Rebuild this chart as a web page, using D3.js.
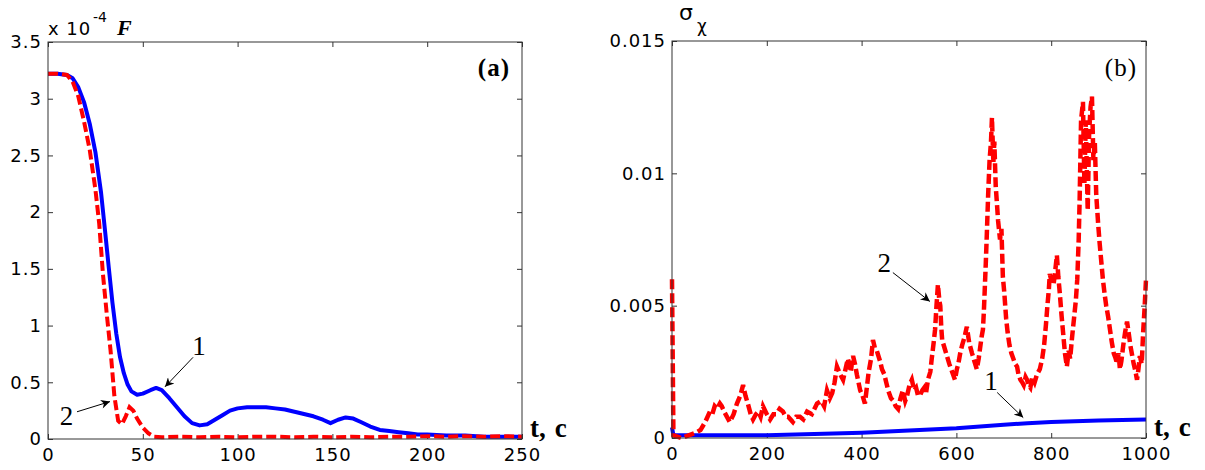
<!DOCTYPE html>
<html>
<head>
<meta charset="utf-8">
<script src="https://cdn.jsdelivr.net/npm/d3@7"></script>
<style>
  body { margin: 0; background: #fff; }
  svg { display: block; }
</style>
</head>
<body>
<div id="chart"></div>
<script>
// ---- panel (a): F(t), units of 1e-4 ----
const tBlueA = [0, 5, 10, 13, 16, 19, 22, 25, 28, 30, 32, 34, 36, 38, 40, 42, 44, 47, 50, 54, 57, 60, 64, 68, 72, 76, 80, 84, 88, 92, 96, 100, 105, 110, 115, 120, 125, 130, 135, 140, 145, 149, 153, 157, 161, 165, 170, 175, 180, 185, 190, 195, 200, 210, 220, 230, 240, 250];
const blueA = [3.22, 3.22, 3.21, 3.18, 3.10, 2.97, 2.78, 2.53, 2.17, 1.85, 1.52, 1.20, 0.93, 0.72, 0.58, 0.48, 0.42, 0.39, 0.40, 0.43, 0.45, 0.43, 0.36, 0.28, 0.20, 0.14, 0.12, 0.13, 0.17, 0.21, 0.25, 0.27, 0.28, 0.28, 0.28, 0.27, 0.26, 0.24, 0.22, 0.20, 0.17, 0.14, 0.17, 0.19, 0.18, 0.15, 0.11, 0.08, 0.07, 0.06, 0.05, 0.04, 0.04, 0.03, 0.03, 0.02, 0.02, 0.02];
const tRedA = [0, 5, 10, 13, 16, 19, 22, 25, 27, 29, 31, 33, 35, 37, 39, 41, 43, 45, 47, 50, 53, 56, 60, 70, 80, 90, 100, 110, 120, 130, 140, 150, 160, 170, 180, 190, 200, 210, 220, 230, 240, 250];
const redA = [3.22, 3.22, 3.21, 3.15, 3.02, 2.80, 2.55, 2.20, 1.90, 1.45, 1.10, 0.78, 0.38, 0.16, 0.13, 0.20, 0.28, 0.25, 0.18, 0.10, 0.05, 0.02, 0.015, 0.02, 0.015, 0.02, 0.015, 0.02, 0.02, 0.015, 0.02, 0.015, 0.02, 0.015, 0.02, 0.02, 0.025, 0.02, 0.025, 0.02, 0.025, 0.02];
const xTicksA = [0, 50, 100, 150, 200, 250];
const yTicksA = [0, 0.5, 1, 1.5, 2, 2.5, 3, 3.5];

// ---- panel (b): sigma_chi(t) ----
const tBlueB = [0, 3, 100, 200, 300, 400, 500, 600, 700, 750, 800, 900, 1000];
const blueB = [0.0004, 0.0001, 0.0001, 0.0001, 0.00015, 0.0002, 0.00028, 0.00037, 0.0005, 0.00056, 0.0006, 0.00066, 0.0007];
const tRedB = [0, 3, 20, 35, 50, 60, 70, 80, 85, 90, 95, 101, 105, 110, 116, 122, 130, 137, 144, 150, 155, 160, 166, 171, 177, 182, 187, 192, 200, 207, 214, 220, 227, 234, 240, 245, 255, 262, 270, 277, 285, 295, 306, 315, 321, 327, 333, 338, 343, 348, 355, 361, 366, 371, 377, 382, 386, 390, 397, 402, 407, 415, 420, 424, 428, 432, 439, 443, 448, 452, 456, 462, 467, 472, 477, 482, 487, 492, 496, 501, 506, 511, 515, 519, 523, 528, 532, 536, 540, 545, 548, 552, 555, 558, 561, 564, 566, 568, 570, 575, 580, 585, 589, 593, 597, 601, 604, 608, 612, 617, 622, 627, 633, 638, 643, 647, 650, 653, 656, 658, 660, 662, 664, 667, 670, 673, 675, 678, 680, 683, 685, 688, 692, 695, 698, 701, 705, 708, 712, 716, 720, 724, 728, 731, 735, 739, 742, 746, 749, 752, 756, 760, 765, 770, 776, 781, 785, 789, 792, 795, 797, 801, 805, 809, 812, 815, 818, 822, 825, 829, 833, 837, 840, 844, 848, 852, 855, 858, 860, 863, 867, 870, 873, 877, 880, 883, 886, 889, 892, 895, 899, 902, 904, 907, 909, 913, 916, 920, 924, 928, 932, 936, 939, 942, 945, 948, 952, 956, 960, 964, 967, 971, 974, 978, 981, 984, 987, 991, 994, 997, 1000];
const redB = [0.0060, 0.0001, 0.0000, 0.0001, 0.0002, 0.0003, 0.0006, 0.0010, 0.0009, 0.0012, 0.0011, 0.0013, 0.0012, 0.0010, 0.0008, 0.0006, 0.0009, 0.0013, 0.0016, 0.0020, 0.0016, 0.0013, 0.0009, 0.0007, 0.0009, 0.0010, 0.0008, 0.0012, 0.0009, 0.0007, 0.0009, 0.0009, 0.0011, 0.0010, 0.0008, 0.0008, 0.0006, 0.0008, 0.0008, 0.0007, 0.0010, 0.0009, 0.0013, 0.0014, 0.0012, 0.0018, 0.0015, 0.0017, 0.0021, 0.0027, 0.0024, 0.0022, 0.0026, 0.0030, 0.0025, 0.0031, 0.0028, 0.0024, 0.0018, 0.0016, 0.0013, 0.0025, 0.0030, 0.0037, 0.0034, 0.0033, 0.0029, 0.0026, 0.0024, 0.0021, 0.0018, 0.0015, 0.0014, 0.0012, 0.0011, 0.0015, 0.0018, 0.0014, 0.0016, 0.0020, 0.0022, 0.0018, 0.0019, 0.0016, 0.0016, 0.0018, 0.0019, 0.0017, 0.0022, 0.0025, 0.0030, 0.0036, 0.0041, 0.0050, 0.0058, 0.0052, 0.0050, 0.0042, 0.0037, 0.0034, 0.0031, 0.0028, 0.0026, 0.0024, 0.0022, 0.0026, 0.0028, 0.0032, 0.0035, 0.0038, 0.0042, 0.0036, 0.0032, 0.0029, 0.0026, 0.0030, 0.0034, 0.0038, 0.0041, 0.0048, 0.0057, 0.0066, 0.0076, 0.0092, 0.0105, 0.0112, 0.0121, 0.0104, 0.0112, 0.0095, 0.0090, 0.0082, 0.0075, 0.0079, 0.0061, 0.0055, 0.0045, 0.0040, 0.0035, 0.0032, 0.0030, 0.0028, 0.0027, 0.0024, 0.0022, 0.0021, 0.0020, 0.0023, 0.0022, 0.0020, 0.0019, 0.0023, 0.0021, 0.0024, 0.0026, 0.0030, 0.0035, 0.0043, 0.0050, 0.0056, 0.0062, 0.0059, 0.0058, 0.0064, 0.0069, 0.0061, 0.0055, 0.0046, 0.0040, 0.0032, 0.0027, 0.0033, 0.0030, 0.0038, 0.0045, 0.0052, 0.0060, 0.0075, 0.0090, 0.0120, 0.0127, 0.0096, 0.0120, 0.0086, 0.0115, 0.0125, 0.0129, 0.0105, 0.0112, 0.0092, 0.0081, 0.0074, 0.0070, 0.0064, 0.0060, 0.0054, 0.0050, 0.0046, 0.0041, 0.0036, 0.0032, 0.0030, 0.0028, 0.0032, 0.0026, 0.0029, 0.0035, 0.0040, 0.0044, 0.0039, 0.0035, 0.0031, 0.0028, 0.0025, 0.0022, 0.0026, 0.0031, 0.0028, 0.0040, 0.0049, 0.0060];
const xTicksB = [0, 200, 400, 600, 800, 1000];
const yTicksB = [0, 0.005, 0.01, 0.015];

// curve labels with arrows, in data coordinates: [label, textT, textV, fromT, fromV, toT, toV]
const notesA = [
  ["1", 79.6, 0.74, 76.5, 0.72, 61.7, 0.46],
  ["2", 9.8, 0.12, 15.3, 0.24, 32.7, 0.33]
];
const notesB = [
  ["2", 448, 0.00629, 466, 0.00625, 544, 0.00516],
  ["1", 673, 0.00183, 686, 0.00172, 741, 0.00077]
];

const width = 1205, height = 470;
const BLUE = "#0000ff", RED = "#ff0000";
const tickFont = "'DejaVu Sans', sans-serif";
const serif = "'Liberation Serif', 'Times New Roman', serif";

const svg = d3.select("#chart").append("svg")
  .attr("width", width)
  .attr("height", height);

svg.append("defs").append("marker")
  .attr("id", "arrow")
  .attr("viewBox", "0 0 10 10")
  .attr("refX", 10).attr("refY", 5)
  .attr("markerWidth", 12).attr("markerHeight", 9)
  .attr("markerUnits", "userSpaceOnUse")
  .attr("orient", "auto")
  .append("path")
  .attr("d", "M0,0 L10,5 L0,10 L3,5 Z")
  .attr("fill", "#000");

function drawPanel(box, xDomain, yDomain, xTicks, yTicks, blueT, blueV, redT, redV, notes, redWidth) {
  const x = d3.scaleLinear().domain(xDomain).range([box.left, box.right]);
  const y = d3.scaleLinear().domain(yDomain).range([box.bottom, box.top]);
  const g = svg.append("g");
  const fmt = d3.format("~g");

  // axes with inward ticks on all four sides
  const styleAxis = sel => {
    sel.select(".domain").remove();
    sel.selectAll(".tick line").attr("stroke", "#333");
    sel.selectAll(".tick text")
      .attr("font-family", tickFont)
      .attr("font-size", 18)
      .attr("letter-spacing", 1)
      .attr("fill", "#000");
  };
  g.append("g").attr("transform", `translate(0,${box.bottom})`)
    .call(d3.axisBottom(x).tickValues(xTicks).tickSize(-5).tickPadding(9).tickFormat(fmt))
    .call(styleAxis);
  g.append("g").attr("transform", `translate(0,${box.top})`)
    .call(d3.axisTop(x).tickValues(xTicks).tickSize(-5).tickFormat(""))
    .call(styleAxis);
  g.append("g").attr("transform", `translate(${box.left},0)`)
    .call(d3.axisLeft(y).tickValues(yTicks).tickSize(-5).tickPadding(6).tickFormat(fmt))
    .call(styleAxis);
  g.append("g").attr("transform", `translate(${box.right},0)`)
    .call(d3.axisRight(y).tickValues(yTicks).tickSize(-5).tickFormat(""))
    .call(styleAxis);

  const line = d3.line().x(d => x(d[0])).y(d => y(d[1]));

  g.append("path")
    .datum(blueT.map((t, i) => [t, blueV[i]]))
    .attr("d", line)
    .attr("fill", "none")
    .attr("stroke", BLUE)
    .attr("stroke-width", 4)
    .attr("stroke-linejoin", "round");

  g.append("path")
    .datum(redT.map((t, i) => [t, redV[i]]))
    .attr("d", line)
    .attr("fill", "none")
    .attr("stroke", RED)
    .attr("stroke-width", redWidth)
    .attr("stroke-dasharray", "10,4");

  // frame
  g.append("rect")
    .attr("x", box.left).attr("y", box.top)
    .attr("width", box.right - box.left).attr("height", box.bottom - box.top)
    .attr("fill", "none")
    .attr("stroke", "#333")
    .attr("stroke-width", 1);

  notes.forEach(n => {
    g.append("line")
      .attr("x1", x(n[3])).attr("y1", y(n[4]))
      .attr("x2", x(n[5])).attr("y2", y(n[6]))
      .attr("stroke", "#000")
      .attr("stroke-width", 1)
      .attr("marker-end", "url(#arrow)");
    g.append("text")
      .attr("x", x(n[1])).attr("y", y(n[2]))
      .attr("text-anchor", "middle")
      .attr("font-family", serif)
      .attr("font-size", 27)
      .text(n[0]);
  });

  // "t, c" axis label
  const tl = g.append("text")
    .attr("x", box.right + 8).attr("y", box.bottom - 2)
    .attr("font-family", serif)
    .attr("font-weight", "bold")
    .attr("font-size", 27);
  tl.append("tspan").text("t,");
  tl.append("tspan").attr("dx", 9).text("c");

  return g;
}

const boxA = { left: 48, right: 522, top: 42, bottom: 439 };
const boxB = { left: 672, right: 1146, top: 41, bottom: 438 };

const gA = drawPanel(boxA, [0, 250], [0, 3.5], xTicksA, yTicksA, tBlueA, blueA, tRedA, redA, notesA, 4);
const gB = drawPanel(boxB, [0, 1000], [0, 0.015], xTicksB, yTicksB, tBlueB, blueB, tRedB, redB, notesB, 4.5);

// panel (a) y label: x 10^-4  F
gA.append("text")
  .attr("x", boxA.left).attr("y", 35)
  .attr("font-family", tickFont).attr("font-size", 18).attr("letter-spacing", 1)
  .text("x 10");
gA.append("text")
  .attr("x", 93).attr("y", 22)
  .attr("font-family", tickFont).attr("font-size", 14)
  .text("-4");
gA.append("text")
  .attr("x", 117).attr("y", 35)
  .attr("font-family", serif).attr("font-size", 22)
  .attr("font-weight", "bold").attr("font-style", "italic")
  .text("F");
gA.append("text")
  .attr("x", boxA.right - 12).attr("y", 76)
  .attr("text-anchor", "end")
  .attr("font-family", serif).attr("font-size", 25).attr("font-weight", "bold")
  .attr("letter-spacing", 1)
  .text("(a)");

// panel (b) y label: sigma_chi
gB.append("text")
  .attr("x", 679).attr("y", 20)
  .attr("font-family", tickFont).attr("font-size", 22)
  .text("σ");
gB.append("text")
  .attr("x", 697).attr("y", 32)
  .attr("font-family", tickFont).attr("font-size", 17)
  .text("χ");
gB.append("text")
  .attr("x", boxB.right - 9).attr("y", 76)
  .attr("text-anchor", "end")
  .attr("font-family", serif).attr("font-size", 25)
  .attr("letter-spacing", 1)
  .text("(b)");
</script>
</body>
</html>
